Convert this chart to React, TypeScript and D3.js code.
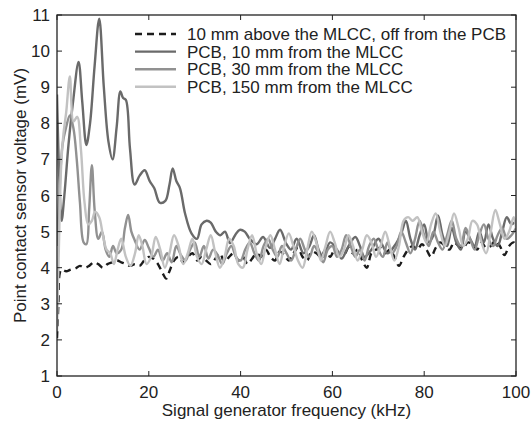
import { useMemo } from "react";
import { scaleLinear, line, curveCatmullRom } from "d3";

const WIDTH = 531;
const HEIGHT = 421;
const MARGIN = { top: 15, right: 15, bottom: 45, left: 57 };
const FONT = "'Liberation Sans', Arial, Helvetica, sans-serif";

const X_TICKS = [0, 20, 40, 60, 80, 100];
const Y_TICKS = [1, 2, 3, 4, 5, 6, 7, 8, 9, 10, 11];

// [frequency kHz, voltage mV]
const offPcb: [number, number][] = [
  [0, 2.05], [0.3, 3.0], [0.6, 3.85], [1, 3.95], [2, 3.9], [3, 3.95], [4, 3.98], [5, 4.05], [6, 4.0], [7, 4.05],
  [8, 4.15], [9, 4.1], [10, 4.0], [11, 4.1], [12, 4.15], [13, 4.2], [14, 4.15], [15, 4.1], [16, 4.05], [17, 4.1],
  [18, 4.05], [19, 4.2], [20, 4.3], [21, 4.25], [22, 4.1], [23, 3.85], [23.8, 3.7], [24.5, 3.9], [25.5, 4.2],
  [26.5, 4.3], [27.5, 4.15], [28.5, 4.3], [29.5, 4.4], [30.5, 4.2], [31.5, 4.3], [32.5, 4.2], [33.5, 4.1],
  [34.5, 4.25], [35.5, 4.4], [36.5, 4.15], [37.5, 4.3], [38.5, 4.4], [39.5, 4.2], [40.5, 4.3], [41.5, 4.1],
  [42.5, 4.25], [43.5, 4.4], [44.5, 4.3], [45.5, 4.5], [46.5, 4.3], [47.5, 4.2], [48.5, 4.45], [49.5, 4.35],
  [50.5, 4.2], [51.5, 4.4], [52.5, 4.55], [53.5, 4.3], [54.5, 4.2], [55.5, 4.45], [56.5, 4.4], [57.5, 4.3],
  [58.5, 4.5], [59.5, 4.3], [60.5, 4.5], [61.5, 4.4], [62.5, 4.35], [63.5, 4.55], [64.5, 4.4], [65.5, 4.5],
  [66.5, 4.2], [67.5, 4.0], [68.5, 4.4], [69.5, 4.5], [70.5, 4.55], [71.5, 4.4], [72.5, 4.5], [73.5, 4.3],
  [74.5, 4.05], [75.5, 4.3], [76.5, 4.5], [77.5, 4.6], [78.5, 4.5], [79.5, 4.65], [80.5, 4.5], [81.5, 4.3],
  [82.5, 4.55], [83.5, 4.7], [84.5, 4.6], [85.5, 4.5], [86.5, 4.7], [87.5, 4.6], [88.5, 4.55], [89.5, 4.7],
  [90.5, 4.65], [91.5, 4.5], [92.5, 4.7], [93.5, 4.55], [94.5, 4.6], [95.5, 4.75], [96.5, 4.6], [97.5, 4.35],
  [98.5, 4.6], [99.5, 4.7], [100, 4.6],
];

const pcb10: [number, number][] = [
  [0, 8.8], [0.5, 6.5], [1, 5.3], [1.6, 6.0], [2.5, 7.4], [3.5, 8.6], [4.7, 9.7], [5.5, 8.6], [6.4, 7.4],
  [7.2, 8.0], [8.2, 9.6], [9.2, 10.9], [10.2, 9.0], [11.2, 7.5], [12.1, 7.0], [13, 7.9], [13.8, 8.88],
  [14.4, 8.7], [15, 8.65], [15.9, 7.3], [16.9, 6.3], [18, 6.55], [19.1, 6.7], [20.2, 6.4], [21.2, 6.2],
  [22.4, 5.8], [23.6, 5.85], [24.5, 6.3], [25.2, 6.75], [26, 6.4], [26.8, 6.2], [27.9, 5.5], [29.3, 4.95],
  [30.5, 4.8], [31.5, 5.2], [32.6, 5.3], [33.5, 5.25], [34.6, 5.0], [35.6, 4.9], [36.6, 5.0], [37.7, 4.68],
  [38.8, 4.9], [39.8, 5.05], [40.9, 5.0], [42, 4.8], [43.5, 4.65], [44.9, 4.85], [46.4, 4.55], [47.5, 4.8],
  [48.6, 5.05], [50, 4.65], [51, 4.5], [52.2, 4.8], [53.7, 4.4], [55, 4.6], [56, 4.9], [57, 4.5], [58, 4.3],
  [59.5, 4.7], [61, 4.5], [62, 4.25], [63.5, 4.6], [65, 4.85], [66, 4.6], [67, 4.3], [68.5, 4.5], [70, 4.8],
  [71, 4.6], [72, 4.4], [73.5, 4.6], [75, 4.95], [76, 5.3], [77, 4.8], [78, 4.5], [79, 4.9], [80, 5.2],
  [81, 4.7], [82, 4.9], [83, 5.45], [84, 4.9], [85, 4.6], [86, 5.1], [87, 4.7], [88, 4.5], [89, 5.0],
  [90, 4.8], [91, 4.6], [92, 5.0], [93, 4.7], [94, 5.2], [95, 4.8], [96, 4.6], [97, 5.0], [98, 5.4],
  [99, 5.2], [100, 5.3],
];

const pcb30: [number, number][] = [
  [0, 4.6], [0.5, 6.0], [1.2, 7.4], [2, 7.9], [2.8, 8.22], [3.6, 7.85], [4.3, 7.0], [5, 5.8], [5.8, 4.7],
  [6.4, 4.65], [7, 5.6], [7.6, 6.84], [8.2, 5.6], [9, 4.8], [9.8, 5.0], [10.6, 4.5], [11.4, 4.3], [12.2, 4.6],
  [13, 4.4], [14, 4.5], [14.8, 5.1], [15.5, 5.46], [16.2, 5.0], [16.9, 4.77], [18, 4.5], [19.1, 4.77],
  [20, 4.55], [21, 4.3], [22, 4.5], [23, 4.2], [24, 4.4], [25, 4.15], [26, 4.6], [27, 4.35], [28, 4.2],
  [29, 4.5], [30, 4.7], [31, 4.3], [32, 4.6], [33, 4.25], [34, 4.5], [35, 4.35], [36, 4.1], [37, 4.4],
  [38, 4.6], [39, 4.3], [40, 4.2], [41, 4.5], [42, 4.7], [43, 4.4], [44, 4.2], [45, 4.6], [46, 4.8],
  [47, 4.5], [48, 4.3], [49, 4.6], [50, 4.4], [51, 4.2], [52, 4.5], [53, 4.8], [54, 4.5], [55, 4.3],
  [56, 4.6], [57, 4.4], [58, 4.15], [59, 4.5], [60, 4.6], [61, 4.3], [62, 4.5], [63, 4.9], [64, 4.6],
  [65, 4.3], [66, 4.5], [67, 4.2], [68, 4.6], [69, 4.8], [70, 4.5], [71, 4.3], [72, 4.7], [73, 4.4],
  [74, 4.6], [75, 5.0], [76, 4.7], [77, 4.4], [78, 4.8], [79, 5.3], [80, 4.9], [81, 4.6], [82, 5.0],
  [83, 4.7], [84, 4.5], [85, 4.9], [86, 5.3], [87, 4.8], [88, 4.6], [89, 5.1], [90, 4.8], [91, 4.5],
  [92, 4.9], [93, 5.2], [94, 4.8], [95, 4.6], [96, 4.9], [97, 5.1], [98, 4.8], [99, 4.9], [100, 5.1],
];

const pcb150: [number, number][] = [
  [0, 2.25], [0.4, 4.5], [0.9, 6.8], [1.4, 7.7], [2, 8.3], [2.8, 9.3], [3.6, 8.05], [4.4, 8.18], [5.2, 7.3],
  [6, 5.8], [6.8, 5.2], [7.6, 5.3], [8.3, 5.55], [9.2, 5.4], [10, 4.9], [10.8, 4.5], [11.6, 4.4], [12.4, 4.1],
  [13.2, 4.5], [14, 4.8], [15, 4.3], [16, 4.05], [17, 4.4], [17.8, 4.9], [18.6, 4.6], [19.5, 4.1], [20.5, 4.3],
  [21.5, 4.85], [22.5, 4.5], [23.5, 4.0], [24.5, 4.4], [25.5, 4.9], [26.5, 4.6], [27.5, 4.1], [28.5, 4.4],
  [29.5, 4.8], [30.5, 4.3], [31.5, 4.1], [32.5, 4.5], [33.5, 4.9], [34.5, 4.4], [35.5, 4.0], [36.5, 4.3],
  [37.5, 4.8], [38.5, 4.6], [39.5, 4.1], [40.5, 4.0], [41.5, 4.5], [42.5, 4.9], [43.5, 4.4], [44.5, 4.1],
  [45.5, 4.6], [46.5, 4.9], [47.5, 4.5], [48.5, 4.1], [49.5, 4.6], [50.5, 4.95], [51.5, 4.6], [52.5, 4.2],
  [53.5, 4.0], [54.5, 4.5], [55.5, 5.0], [56.5, 4.7], [57.5, 4.2], [58.5, 4.6], [59.5, 5.0], [60.5, 4.7],
  [61.5, 4.3], [62.5, 4.5], [63.5, 4.9], [64.5, 4.6], [65.5, 4.2], [66.5, 4.5], [67.5, 4.9], [68.5, 4.7],
  [69.5, 4.3], [70.5, 4.6], [71.5, 5.0], [72.5, 4.6], [73.5, 4.2], [74.5, 4.6], [75.5, 5.3], [76.5, 5.4],
  [77.5, 5.3], [78.5, 5.4], [79.5, 5.0], [80.5, 4.7], [81.5, 5.2], [82.5, 5.5], [83.5, 5.0], [84.5, 4.6],
  [85.5, 5.0], [86.5, 5.5], [87.5, 5.1], [88.5, 4.6], [89.5, 4.8], [90.5, 5.3], [91.5, 5.2], [92.5, 4.7],
  [93.5, 4.4], [94.5, 5.0], [95.5, 5.6], [96.5, 5.2], [97.5, 4.8], [98.5, 5.0], [99.5, 5.4], [100, 5.1],
];

const SERIES = [
  { label: "10 mm above the MLCC, off from the PCB", data: offPcb, color: "#1c1c1c", dash: "7,5" },
  { label: "PCB, 10 mm from the MLCC", data: pcb10, color: "#6a6a6a", dash: undefined },
  { label: "PCB, 30 mm from the MLCC", data: pcb30, color: "#919191", dash: undefined },
  { label: "PCB, 150 mm from the MLCC", data: pcb150, color: "#c2c2c2", dash: undefined },
];

export default function App() {
  const x = useMemo(() => scaleLinear().domain([0, 100]).range([MARGIN.left, WIDTH - MARGIN.right]), []);
  const y = useMemo(() => scaleLinear().domain([1, 11]).range([HEIGHT - MARGIN.bottom, MARGIN.top]), []);
  const path = line<[number, number]>()
    .x((d) => x(d[0]))
    .y((d) => y(d[1]))
    .curve(curveCatmullRom.alpha(0.5));

  const left = MARGIN.left;
  const right = WIDTH - MARGIN.right;
  const top = MARGIN.top;
  const bottom = HEIGHT - MARGIN.bottom;

  return (
    <svg width={WIDTH} height={HEIGHT} style={{ position: "absolute", left: 0, top: 0, background: "#fff" }} fontFamily={FONT}>
      <defs>
        <clipPath id="plot">
          <rect x={left} y={top} width={right - left} height={bottom - top} />
        </clipPath>
      </defs>

      <g clipPath="url(#plot)" fill="none" strokeWidth={2.4} strokeLinejoin="round">
        {SERIES.map((s) => (
          <path key={s.label} d={path(s.data) ?? ""} stroke={s.color} strokeDasharray={s.dash} />
        ))}
      </g>

      <rect x={left} y={top} width={right - left} height={bottom - top} fill="none" stroke="#222" strokeWidth={1.3} />

      {X_TICKS.map((t) => (
        <g key={t}>
          <line x1={x(t)} x2={x(t)} y1={bottom} y2={bottom - 5} stroke="#222" />
          <line x1={x(t)} x2={x(t)} y1={top} y2={top + 5} stroke="#222" />
          <text x={x(t)} y={398} textAnchor="middle" fontSize={17} fill="#222">{t}</text>
        </g>
      ))}
      {Y_TICKS.map((t) => (
        <g key={t}>
          <line x1={left} x2={left + 5} y1={y(t)} y2={y(t)} stroke="#222" />
          <line x1={right} x2={right - 5} y1={y(t)} y2={y(t)} stroke="#222" />
          <text x={50} y={y(t) + 6} textAnchor="end" fontSize={17} fill="#222">{t}</text>
        </g>
      ))}

      <text x={(left + right) / 2} y={416} textAnchor="middle" fontSize={17} fill="#222">
        Signal generator frequency (kHz)
      </text>
      <text transform={`translate(26,${(top + bottom) / 2}) rotate(-90)`} textAnchor="middle" fontSize={17} fill="#222">
        Point contact sensor voltage (mV)
      </text>

      {SERIES.map((s, i) => {
        const ly = 34 + i * 17.6;
        return (
          <g key={s.label}>
            <line x1={135} x2={176} y1={ly} y2={ly} stroke={s.color} strokeWidth={2.4} strokeDasharray={s.dash} />
            <text x={187} y={ly + 6} fontSize={17} fill="#222">{s.label}</text>
          </g>
        );
      })}
    </svg>
  );
}
